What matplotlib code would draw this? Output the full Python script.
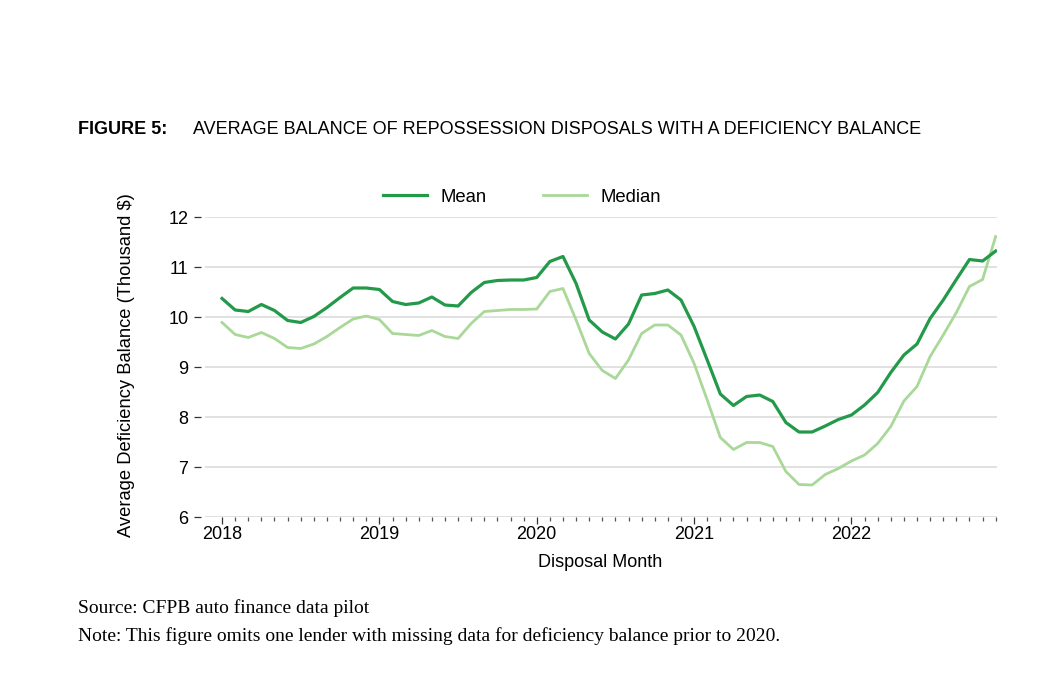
import numpy as np
import pandas as pd
import matplotlib
matplotlib.use("Agg")
import matplotlib.pyplot as plt
from matplotlib.lines import Line2D

# monthly disposal months, Jan 2018 - Dec 2022
months = pd.date_range("2018-01-01", periods=60, freq="MS")

# average deficiency balance, thousand $
mean_balance = [10.37, 10.14, 10.11, 10.25, 10.13, 9.93, 9.89, 10.01, 10.19, 10.39,
                10.58, 10.58, 10.55, 10.31, 10.25, 10.28, 10.40, 10.24, 10.22, 10.49,
                10.69, 10.73, 10.74, 10.74, 10.79, 11.11, 11.21, 10.67, 9.94, 9.70,
                9.56, 9.86, 10.44, 10.47, 10.54, 10.34, 9.81, 9.14, 8.46, 8.23,
                8.41, 8.44, 8.31, 7.89, 7.70, 7.70, 7.82, 7.95, 8.04, 8.24,
                8.49, 8.89, 9.24, 9.46, 9.97, 10.34, 10.75, 11.15, 11.12, 11.32]
median_balance = [9.89, 9.65, 9.59, 9.69, 9.57, 9.39, 9.37, 9.46, 9.61, 9.79,
                  9.96, 10.02, 9.95, 9.67, 9.65, 9.63, 9.73, 9.61, 9.57, 9.87,
                  10.11, 10.13, 10.15, 10.15, 10.16, 10.51, 10.57, 9.94, 9.27, 8.93,
                  8.77, 9.14, 9.67, 9.84, 9.84, 9.64, 9.07, 8.34, 7.59, 7.35,
                  7.49, 7.49, 7.41, 6.91, 6.65, 6.64, 6.85, 6.97, 7.12, 7.24,
                  7.47, 7.81, 8.32, 8.61, 9.21, 9.64, 10.09, 10.61, 10.75, 11.61]

y_ticks = [6, 7, 8, 9, 10, 11, 12]
year_labels = ["2018", "2019", "2020", "2021", "2022"]

MEAN_COLOR = "#23994a"
MEDIAN_COLOR = "#a9d898"

plt.rcParams["font.family"] = ["Liberation Sans", "DejaVu Sans"]

fig = plt.figure(figsize=(10.37, 6.79), dpi=100)
ax = fig.add_axes([205 / 1037, 1 - 517 / 679, 792 / 1037, 300 / 679])

x = np.arange(len(months))
ax.plot(x, median_balance, color=MEDIAN_COLOR, lw=2.0, solid_joinstyle="round")
ax.plot(x, mean_balance, color=MEAN_COLOR, lw=2.3, solid_joinstyle="round")

ax.set_ylim(6, 12)
ax.set_xlim(-1.3, 59.1)
ax.set_yticks(y_ticks)
ax.set_yticklabels([str(v) for v in y_ticks])
ax.grid(axis="y", color="#d9d9d9", lw=1.1)
ax.set_axisbelow(True)

year_pos = [i for i, m in enumerate(months) if m.month == 1]
ax.set_xticks(year_pos)
ax.set_xticklabels(year_labels)
ax.set_xticks(x, minor=True)

for s in ax.spines.values():
    s.set_visible(False)
ax.spines["left"].set_position(("outward", 3))

ax.tick_params(axis="y", length=5, width=0.9, color="#333333", pad=4, labelsize=13)
ax.tick_params(axis="x", which="major", length=5, width=0.9, color="#333333",
               pad=1.5, labelsize=13)
ax.tick_params(axis="x", which="minor", length=3, width=0.9, color="#555555")

ax.set_xlabel("Disposal Month", fontsize=13, va="center")
ax.xaxis.set_label_coords(0.499, -0.153)
ax.set_ylabel("Average Deficiency Balance (Thousand $)", fontsize=13.2, va="center")
ax.yaxis.set_label_coords(-0.0997, 0.507)

handles = [Line2D([], [], color=MEAN_COLOR, lw=2.3),
           Line2D([], [], color=MEDIAN_COLOR, lw=2.0)]
fig.legend(handles, ["Mean", "Median"], loc="center", ncol=2, frameon=False,
           bbox_to_anchor=(522 / 1037, 1 - 197 / 679), fontsize=13.3,
           handlelength=2.4, columnspacing=3.0, handletextpad=0.75)

fig.text(78 / 1037, 1 - 130 / 679, "FIGURE 5:", fontsize=13, fontweight="bold",
         va="center", ha="left")
fig.text(193 / 1037, 1 - 130 / 679,
         "AVERAGE BALANCE OF REPOSSESSION DISPOSALS WITH A DEFICIENCY BALANCE",
         fontsize=13, va="center", ha="left")

fig.text(78 / 1037, 1 - 608 / 679, "Source: CFPB auto finance data pilot",
         family="Liberation Serif", fontsize=14, va="center", ha="left")
fig.text(78 / 1037, 1 - 636 / 679,
         "Note: This figure omits one lender with missing data for deficiency "
         "balance prior to 2020.",
         family="Liberation Serif", fontsize=14, va="center", ha="left")

fig.savefig("out.png", dpi=100)
